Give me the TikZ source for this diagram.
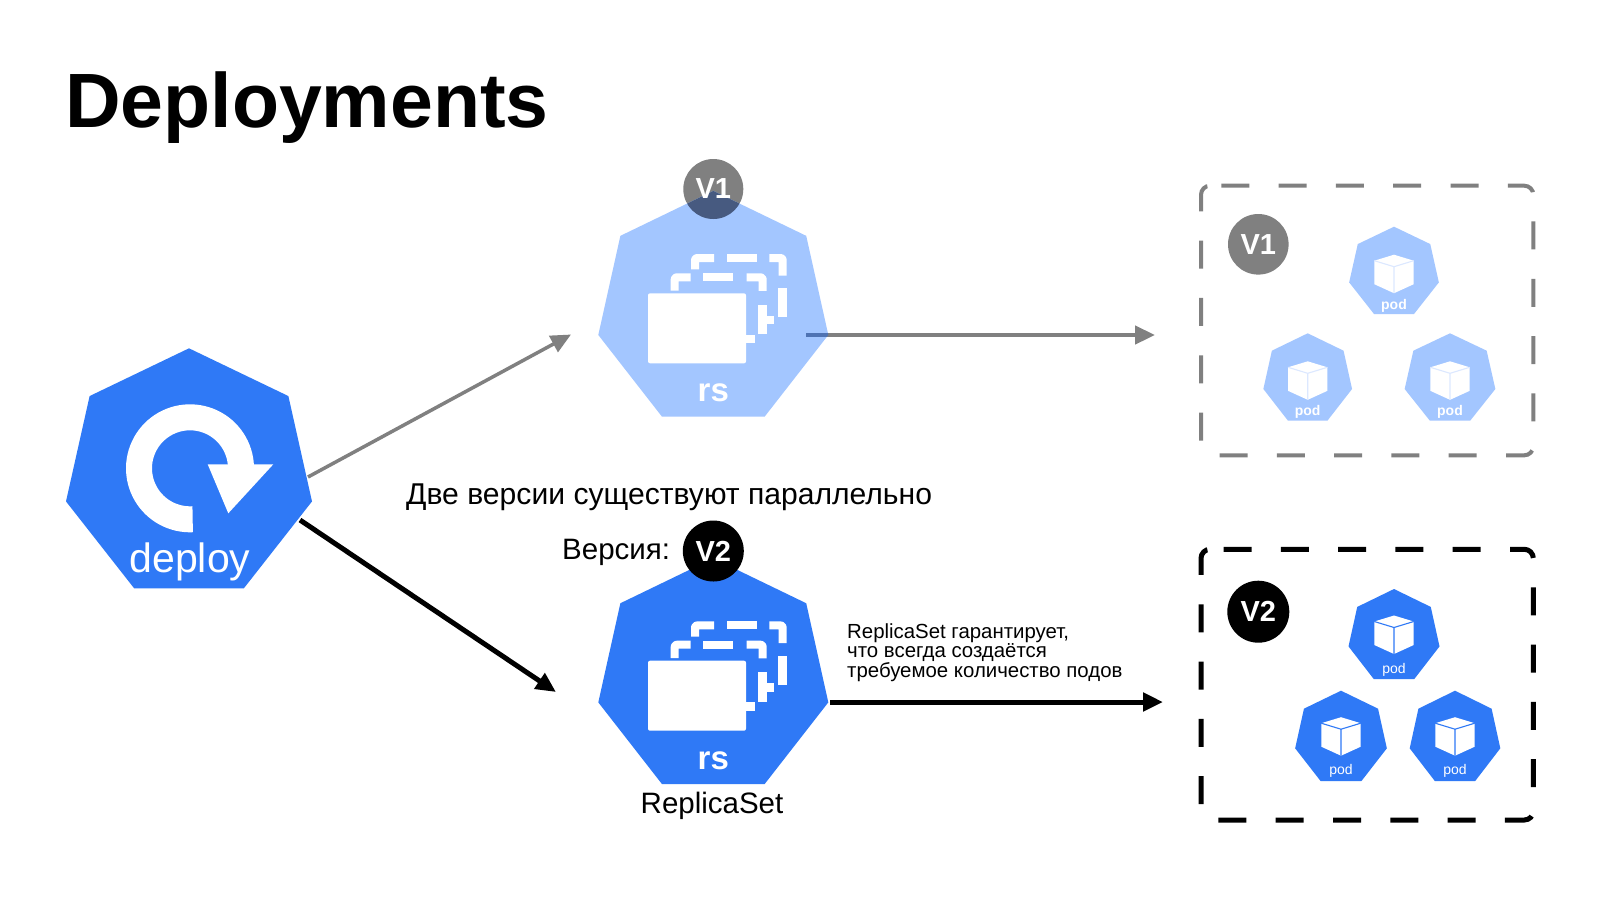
\documentclass[tikz,border=0pt]{standalone}
\usepackage{fontspec}
\setmainfont{Liberation Sans}
\usetikzlibrary{arrows.meta}
\definecolor{kblue}{HTML}{2F79F6}
\definecolor{klight}{HTML}{A3C6FF}
\definecolor{kgrey}{HTML}{808080}
\definecolor{koverlap}{HTML}{475A80}
\definecolor{kline}{HTML}{4F73B3}
\definecolor{kfaint}{HTML}{DCE8FF}
\tikzset{
  x=1pt,y=-1pt,
  lbl/.style={anchor=base west,inner sep=0pt,text=black},
  badgetext/.style={anchor=center,inner sep=0pt,text=white,font=\bfseries\fontsize{29}{29}\selectfont},
  iconbar/.style={draw=white,line width=8pt,line cap=butt,line join=round,rounded corners=2pt},
  conn/.style={line width=#1,-{Triangle[length=20pt,width=18pt]},shorten <=0pt},
  boxline/.style={line width=#1,rounded corners=9pt,dash pattern=on 28pt off 29.3pt,dash phase=54.6pt,line cap=butt},
}
\newcommand{\podlift}{0}
% heptagon: centre x, top y, width, height, colour
\newcommand{\heptshape}[4]{(#1,#2) -- ({#1+.404*#3},{#2+.199*#4}) -- ({#1+.5*#3},{#2+.638*#4}) -- ({#1+.223*#3},{#2+#4}) -- ({#1-.223*#3},{#2+#4}) -- ({#1-.5*#3},{#2+.638*#4}) -- ({#1-.404*#3},{#2+.199*#4}) -- cycle}
\newcommand{\hept}[5]{\fill[#5] \heptshape{#1}{#2}{#3}{#4};}
% pod: name, centre x, top y, width, height, colour, cube line colour, text font
\newcommand{\podicon}[8]{%
  \hept{#2}{#3}{#4}{#5}{#6}
  \begin{scope}[shift={(#2,#3)}]
    \begin{scope}[yshift=\podlift pt]
    \fill[white] (0,26.5) -- (19.7,32.5) -- (19.7,56) -- (0,65) -- (-19.7,56) -- (-19.7,32.5) -- cycle;
    \draw[#7,line width=1.1pt] (-19.7,32.5) -- (0,38.5) -- (19.7,32.5) (0,38.5) -- (0,65);
    \end{scope}
    \node[anchor=base,inner sep=0pt,text=white,font=#8] (#1) at (0,{84+\podlift}) {pod};
  \end{scope}}
% replica set icon relative to centre x, top y
\newcommand{\rsicon}[2]{%
  \begin{scope}[shift={(#1,#2)}]
    \fill[white,rounded corners=2pt] (-65.3,102.4) rectangle (32.7,172.4);
    \fill[white] (32,144) rectangle (41.7,152.4);
    \draw[iconbar] (-38.6,99.8) -- (-38.6,86.4) -- (-22.6,86.4);
    \draw[iconbar,rounded corners=0pt] (-10,86.4) -- (20,86.4);
    \draw[iconbar] (33.4,86.4) -- (49.4,86.4) -- (49.4,100);
    \fill[white] (45,114) rectangle (53.4,143.4);
    \fill[white] (53,124.8) rectangle (60.7,133.4);
    \draw[iconbar] (-18.3,78.4) -- (-18.3,67.1) -- (0.7,67.1);
    \draw[iconbar,rounded corners=0pt] (14,67.1) -- (43.4,67.1);
    \draw[iconbar] (56,67.1) -- (69.4,67.1) -- (69.4,84.8);
    \fill[white] (65,97.4) rectangle (73.4,126.4);
    \node[anchor=base,inner sep=0pt,text=white,font=\bfseries\fontsize{33}{33}\selectfont] at (0,211) {rs};
  \end{scope}}
% dashed box: left, top, right, bottom
\newcommand{\podbox}[5]{\draw[#5] ({#1+9},#2) -- (#1,#2) -- (#1,#4) -- (#3,#4) -- (#3,#2) -- ({#1+9},#2);}
\begin{document}
\begin{tikzpicture}
\useasboundingbox (0,0) rectangle (1600,900);
\fill[white] (0,0) rectangle (1600,900);

\node[lbl,font=\bfseries\fontsize{77}{77}\selectfont] (title) at (65,127) {Deployments};

% connector ends
\coordinate (deployA) at (308,477);
\coordinate (deployB) at (300,520);
\coordinate (rsOneIn) at (571,334.5);
\coordinate (rsTwoIn) at (556,692);
\coordinate (rsOneOut) at (806,335);
\coordinate (podsOne) at (1155,335);
\coordinate (rsTwoOut) at (830,702);
\coordinate (podsTwo) at (1163,702);

% connectors behind the icons
\draw[conn=3.5pt,kgrey] (deployA) -- (rsOneIn);
\draw[conn=5pt,black] (deployB) -- (rsTwoIn);

% deploy
\hept{189}{348.3}{246}{240}{kblue}
\draw[white,line width=26pt,line cap=butt] plot[domain=87:358,samples=70] ({190+51*cos(\x)},{468.3+51*sin(\x)});
\fill[white] (207.7,464.3) -- (273.3,464.3) -- (228.3,513.3) -- cycle;
\node[anchor=base,inner sep=0pt,text=white,font=\fontsize{41}{41}\selectfont] (deploy) at (190,572) {deploy};

% replica set V1
\fill[kgrey] (713.3,189) circle[radius=30];
\hept{713.3}{190.9}{230}{225.8}{klight}
\begin{scope}
  \clip \heptshape{713.3}{190.9}{230}{225.8};
  \fill[koverlap] (713.3,189) circle[radius=30];
\end{scope}
\node[badgetext] (vOneTop) at (713.3,189) {V1};
\rsicon{713.3}{190.9}
\draw[conn=4.5pt,kgrey] (rsOneOut) -- (podsOne);
\begin{scope}
  \clip \heptshape{713.3}{190.9}{230}{225.8};
  \draw[line width=4.5pt,kline] (rsOneOut) -- (podsOne);
\end{scope}

% replica set V2
\hept{713.3}{558.3}{230}{225.8}{kblue}
\fill[black] (713.3,551) circle[radius=30.5];
\node[badgetext] (vTwoTop) at (713.3,551) {V2};
\rsicon{713.3}{558.3}
\draw[conn=5pt,black] (rsTwoOut) -- (podsTwo);

% texts
\node[lbl,font=\fontsize{30.1}{30.1}\selectfont] (parallel) at (406,504) {Две версии существуют параллельно};
\node[lbl,font=\fontsize{29.5}{29.5}\selectfont] (version) at (562,559) {Версия:};
\node[lbl,font=\fontsize{29.5}{29.5}\selectfont] (rsname) at (640.5,813) {ReplicaSet};
\node[lbl,font=\fontsize{20.4}{18.4}\selectfont,align=left,anchor=north west] (guarantee) at (847,624) {ReplicaSet гарантирует,\\что всегда создаётся\\требуемое количество подов};

% V1 pods box
\podbox{1201}{185.7}{1533.3}{455.3}{boxline=4pt,draw=kgrey}
\fill[kgrey] (1258.3,244.3) circle[radius=30.3];
\node[badgetext] (vOneBox) at (1258.3,244.3) {V1};
\renewcommand{\podlift}{-1.5}
\podicon{podA}{1394}{226.7}{89.7}{87.3}{klight}{kfaint}{\bfseries\fontsize{14}{14}\selectfont}
\podicon{podB}{1307.7}{333.3}{88.7}{87.3}{klight}{kfaint}{\bfseries\fontsize{14}{14}\selectfont}
\podicon{podC}{1450}{333.3}{90.7}{87.3}{klight}{kfaint}{\bfseries\fontsize{14}{14}\selectfont}

% V2 pods box
\podbox{1201}{549.3}{1533.3}{820}{boxline=5pt,draw=black}
\fill[black] (1258.3,611.7) circle[radius=31];
\node[badgetext] (vTwoBox) at (1258.3,611.7) {V2};
\renewcommand{\podlift}{0}
\podicon{podD}{1394}{589}{91}{90}{kblue}{kblue}{\fontsize{14}{14}\selectfont}
\podicon{podE}{1341}{690.7}{91.7}{90.3}{kblue}{kblue}{\fontsize{14}{14}\selectfont}
\podicon{podF}{1455}{690.7}{90.6}{90.3}{kblue}{kblue}{\fontsize{14}{14}\selectfont}
\end{tikzpicture}
\end{document}
